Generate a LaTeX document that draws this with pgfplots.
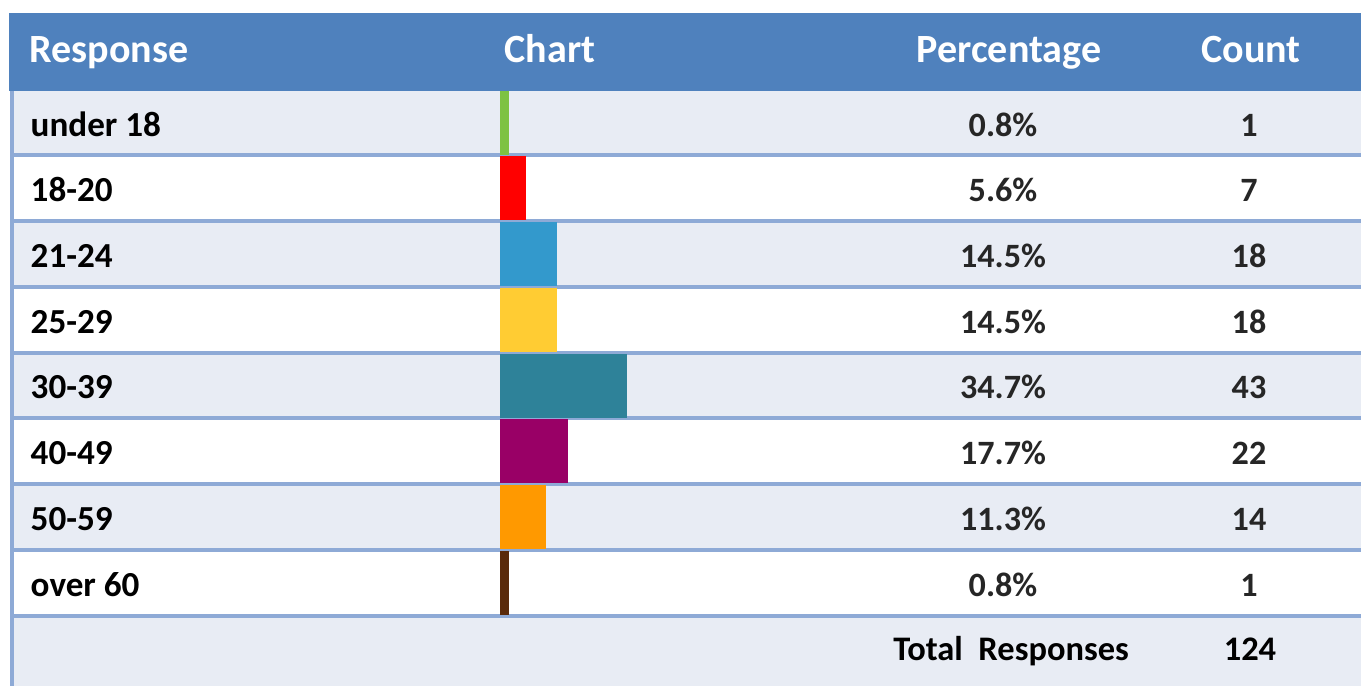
\documentclass[border=0pt]{standalone}
\usepackage{pgfplots}
\pgfplotsset{compat=1.18}
\usepackage{pgfplotstable}
\usepackage{fontspec}
\setmainfont{Carlito}
\definecolor{hdr}{HTML}{4F81BD}
\definecolor{rowlt}{HTML}{E8ECF4}
\definecolor{sep}{HTML}{8EAAD6}
\definecolor{cA}{HTML}{7DC242}
\definecolor{cB}{HTML}{FF0000}
\definecolor{cC}{HTML}{3399CC}
\definecolor{cD}{HTML}{FFCC33}
\definecolor{cE}{HTML}{2E8299}
\definecolor{cF}{HTML}{990066}
\definecolor{cG}{HTML}{FF9900}
\definecolor{cH}{HTML}{5A2A0A}
\pgfplotstableread[col sep=comma]{
y,label,pct,count
123,under 18,0.8,1
188,18-20,5.6,7
254,21-24,14.5,18
320,25-29,14.5,18
385.5,30-39,34.7,43
451,40-49,17.7,22
517,50-59,11.3,14
583,over 60,0.8,1
}\rows
\begin{document}
\begin{tikzpicture}
\begin{axis}[name=bg, width=13.61cm, height=6.86cm, scale only axis,
  xmin=0, xmax=1361, ymin=0, ymax=686, y dir=reverse, hide axis, clip=true]
\fill[white] (axis cs:0,0) rectangle (axis cs:1361,686);
\fill[hdr] (axis cs:9,13) rectangle (axis cs:1361,91);
\fill[rowlt] (axis cs:12,91) rectangle (axis cs:1361,155);
\fill[rowlt] (axis cs:12,221) rectangle (axis cs:1361,287);
\fill[rowlt] (axis cs:12,353) rectangle (axis cs:1361,418);
\fill[rowlt] (axis cs:12,484) rectangle (axis cs:1361,550);
\fill[rowlt] (axis cs:12,616) rectangle (axis cs:1361,686);
\draw[sep, line width=0.035cm] (axis cs:12,155) -- (axis cs:1361,155);
\draw[sep, line width=0.035cm] (axis cs:12,221) -- (axis cs:1361,221);
\draw[sep, line width=0.035cm] (axis cs:12,287) -- (axis cs:1361,287);
\draw[sep, line width=0.035cm] (axis cs:12,353) -- (axis cs:1361,353);
\draw[sep, line width=0.035cm] (axis cs:12,418) -- (axis cs:1361,418);
\draw[sep, line width=0.035cm] (axis cs:12,484) -- (axis cs:1361,484);
\draw[sep, line width=0.035cm] (axis cs:12,550) -- (axis cs:1361,550);
\draw[sep, line width=0.035cm] (axis cs:12,616) -- (axis cs:1361,616);
\draw[sep, line width=0.04cm] (axis cs:12,91) -- (axis cs:12,686);
\node[anchor=base west, text=white, font=\bfseries\fontsize{11.4}{13}\selectfont, inner sep=0pt] at (axis cs:29,62) {Response};
\node[anchor=base west, text=white, font=\bfseries\fontsize{11.4}{13}\selectfont, inner sep=0pt] at (axis cs:504,62) {Chart};
\node[anchor=base, text=white, font=\bfseries\fontsize{11.4}{13}\selectfont, inner sep=0pt] at (axis cs:1009,62) {Percentage};
\node[anchor=base, text=white, font=\bfseries\fontsize{11.4}{13}\selectfont, inner sep=0pt] at (axis cs:1251,62) {Count};
\addplot[draw=none, mark=none, nodes near coords, point meta=explicit symbolic,
  nodes near coords style={anchor=base west, font=\bfseries\fontsize{10}{12}\selectfont, text=black, inner sep=0pt}]
  table[x expr=30, y expr=\thisrow{y}+13, meta=label]{\rows};
\addplot[draw=none, mark=none, nodes near coords={\pgfplotspointmeta\%}, point meta=explicit symbolic,
  nodes near coords style={anchor=base, font=\bfseries\fontsize{9.7}{12}\selectfont, text=black!85, inner sep=0pt}]
  table[x expr=1003, y expr=\thisrow{y}+13, meta=pct]{\rows};
\addplot[draw=none, mark=none, nodes near coords, point meta=explicit symbolic,
  nodes near coords style={anchor=base, font=\bfseries\fontsize{9.7}{12}\selectfont, text=black!85, inner sep=0pt}]
  table[x expr=1249, y expr=\thisrow{y}+13, meta=count]{\rows};
\node[anchor=base, font=\bfseries\fontsize{9.8}{12}\selectfont, inner sep=0pt] at (axis cs:1011,660) {Total\ \ Responses};
\node[anchor=base, font=\bfseries\fontsize{9.8}{12}\selectfont, inner sep=0pt] at (axis cs:1250,660) {124};
\end{axis}
\begin{axis}[at={(bg.south west)}, anchor=south west, width=13.61cm, height=6.86cm, scale only axis,
  xmin=-143.714, xmax=245.143, ymin=0, ymax=686, y dir=reverse, hide axis,
  xbar, bar width=58, bar shift=0pt]
\addplot[fill=cA, draw=cA, line width=0.06cm] coordinates {(0.8,123)};
\addplot[fill=cB, draw=cB, line width=0.06cm] coordinates {(5.6,188)};
\addplot[fill=cC, draw=cC, line width=0.06cm] coordinates {(14.5,254)};
\addplot[fill=cD, draw=cD, line width=0.06cm] coordinates {(14.5,320)};
\addplot[fill=cE, draw=cE, line width=0.06cm] coordinates {(34.7,385.5)};
\addplot[fill=cF, draw=cF, line width=0.06cm] coordinates {(17.7,451)};
\addplot[fill=cG, draw=cG, line width=0.06cm] coordinates {(11.3,517)};
\addplot[fill=cH, draw=cH, line width=0.06cm] coordinates {(0.8,583)};
\end{axis}
\end{tikzpicture}
\end{document}
